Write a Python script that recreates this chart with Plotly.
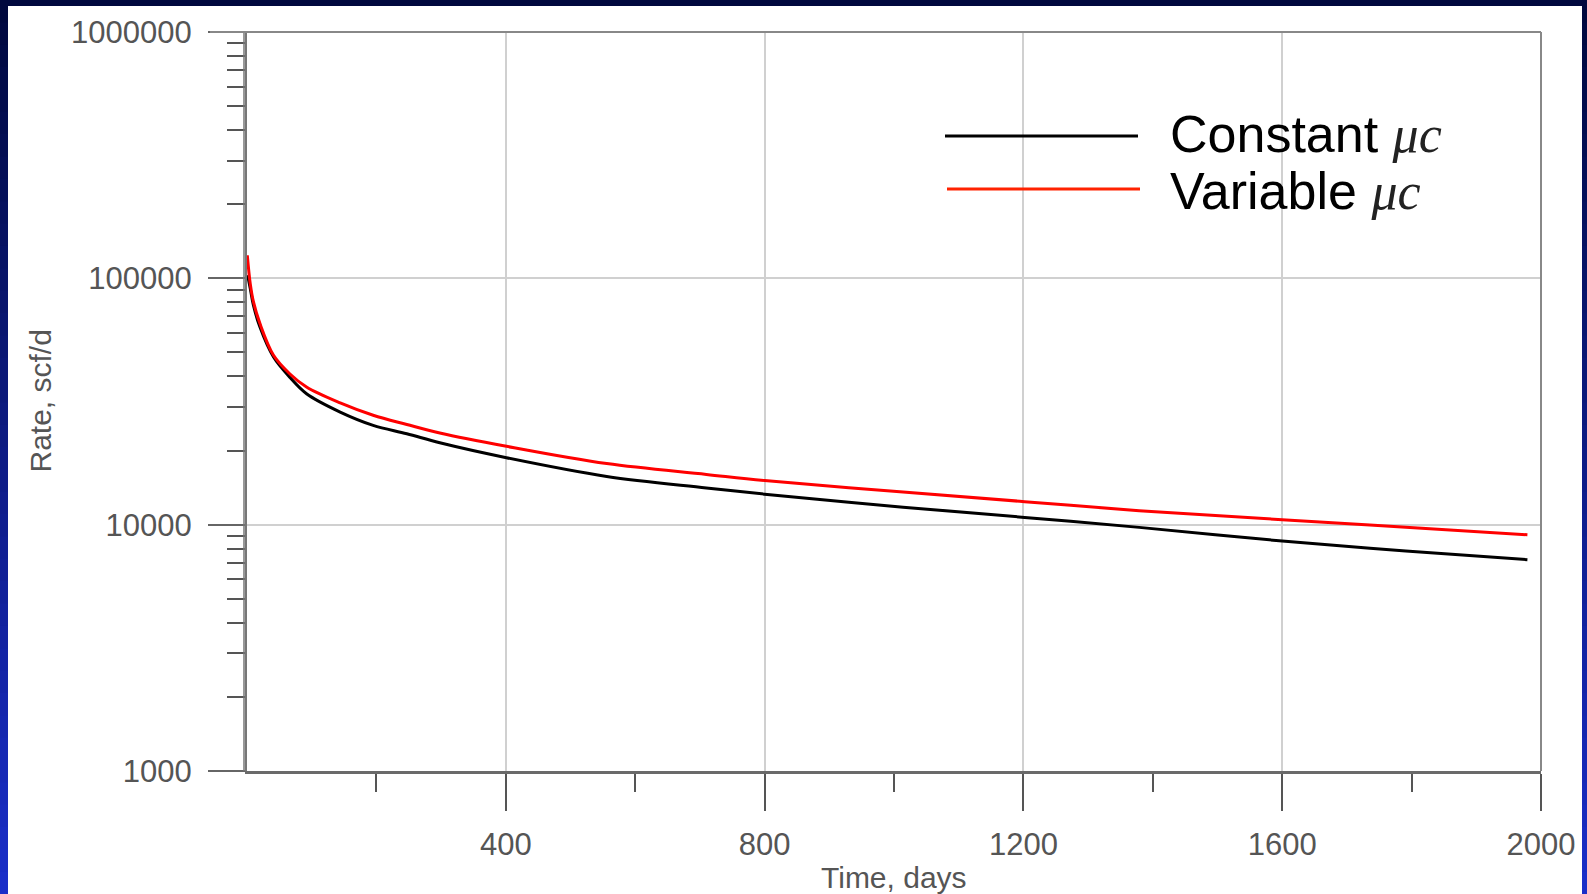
import plotly.graph_objects as go

# Production rate decline, constant vs. variable viscosity-compressibility product
t_constant = [1, 5, 10, 20, 41, 66, 92, 144, 195, 247, 298, 401, 556, 710, 800,
              1014, 1202, 1379, 1600, 1791, 1979]
q_constant = [103000, 91000, 77700, 63400, 47900, 39700, 34000, 28650, 25300, 23400,
              21500, 18700, 15700, 14100, 13300, 11780, 10700, 9750, 8580, 7820, 7210]

t_variable = [0.5, 5, 10, 20, 41, 66, 92, 144, 195, 247, 298, 401, 556, 710, 800,
              1014, 1202, 1379, 1600, 1791, 1979]
q_variable = [124000, 95200, 80200, 65500, 48700, 41000, 36200, 31200, 27800, 25500,
              23550, 20800, 17700, 16000, 15100, 13560, 12400, 11400, 10480, 9770, 9100]

x_major = [400, 800, 1200, 1600, 2000]
x_minor = [200, 600, 1000, 1400, 1800]
y_major = [1000, 10000, 100000, 1000000]
y_major_text = ["1000", "10000", "100000", "1000000"]
y_minor = [m * d for d in (1000, 10000, 100000) for m in range(2, 10)]

W, H = 1587, 894
L, R, T, B = 247, 1541, 32, 771   # plot-area pixel box


def px(x):
    return (x - L) / (R - L)


def py(y):
    return (B - y) / (B - T)


fig = go.Figure()
fig.add_trace(go.Scatter(x=t_constant, y=q_constant, mode="lines", name="Constant μc",
                         line=dict(color="#000000", width=3, shape="spline", smoothing=1.0),
                         showlegend=False))
fig.add_trace(go.Scatter(x=t_variable, y=q_variable, mode="lines", name="Variable μc",
                         line=dict(color="#ff0000", width=3, shape="spline", smoothing=1.0),
                         showlegend=False))

shapes = []
# slide background: vertical navy-to-blue gradient behind a white panel
top_c, bot_c = (0, 8, 62), (26, 46, 200)
n = 40
for i in range(n):
    f = i / (n - 1)
    c = tuple(round(top_c[k] + (bot_c[k] - top_c[k]) * f) for k in range(3))
    shapes.append(dict(type="rect", xref="paper", yref="paper", layer="below",
                       x0=px(-5), x1=px(W + 5), y0=py(H * i / n), y1=py(H * (i + 1) / n + 1),
                       line=dict(width=0), fillcolor="rgb(%d,%d,%d)" % c))
shapes.append(dict(type="rect", xref="paper", yref="paper", layer="below",
                   x0=px(8), x1=px(1582), y0=py(6), y1=py(H + 5),
                   line=dict(width=0), fillcolor="#ffffff"))
# second thin line along the left axis
shapes.append(dict(type="line", xref="paper", yref="paper",
                   x0=px(244), x1=px(244), y0=0, y1=1,
                   line=dict(color="#777777", width=1.5)))
# legend samples
shapes.append(dict(type="line", xref="paper", yref="paper",
                   x0=px(945), x1=px(1138), y0=py(136), y1=py(136),
                   line=dict(color="#000000", width=3)))
shapes.append(dict(type="line", xref="paper", yref="paper",
                   x0=px(947), x1=px(1140), y0=py(189), y1=py(189),
                   line=dict(color="#ff2200", width=3)))

mu = ("<span style=\"font-family:'Liberation Serif', serif; "
      "color:#222222\"><i>μc</i></span>")
annotations = [
    dict(text="Constant " + mu, xref="paper", yref="paper", x=px(1168), y=py(134),
         xanchor="left", yanchor="middle", showarrow=False,
         font=dict(family="Liberation Sans, Arial", size=52, color="#000000")),
    dict(text="Variable " + mu, xref="paper", yref="paper", x=px(1168), y=py(191),
         xanchor="left", yanchor="middle", showarrow=False,
         font=dict(family="Liberation Sans, Arial", size=52, color="#000000")),
    dict(text="Time, days", xref="paper", yref="paper", x=0.5, y=py(877),
         xanchor="center", yanchor="middle", showarrow=False,
         font=dict(family="Liberation Sans, Arial", size=30, color="#555555")),
    dict(text="Rate, scf/d", xref="paper", yref="paper", x=px(40), y=0.5, textangle=-90,
         xanchor="center", yanchor="middle", showarrow=False,
         font=dict(family="Liberation Sans, Arial", size=30, color="#555555")),
]

axis_font = dict(family="Liberation Sans, Arial", size=31, color="#555555")

fig.update_layout(
    width=W, height=H,
    margin=dict(l=L, r=W - R, t=T, b=H - B, pad=0),
    paper_bgcolor="#000840", plot_bgcolor="rgba(0,0,0,0)",
    shapes=shapes, annotations=annotations, showlegend=False,
    xaxis=dict(range=[0, 2000], tickvals=x_major, ticktext=[str(v) for v in x_major],
               ticks="outside", ticklen=37, tickwidth=2, tickcolor="#555555",
               showline=True, linecolor="#6a6a6a", linewidth=3, mirror=False,
               showgrid=True, gridcolor="#d0d0d0", gridwidth=2, zeroline=False,
               tickfont=axis_font, ticklabelstandoff=7,
               minor=dict(tickvals=x_minor, ticks="outside", ticklen=18, tickwidth=2,
                          tickcolor="#555555", showgrid=False)),
    yaxis=dict(type="log", range=[3, 6], tickvals=y_major, ticktext=y_major_text,
               ticks="outside", ticklen=37, tickwidth=2, tickcolor="#666666",
               showline=True, linecolor="#777777", linewidth=2, mirror=False,
               showgrid=True, gridcolor="#d0d0d0", gridwidth=2, zeroline=False,
               tickfont=axis_font, ticklabelstandoff=10,
               minor=dict(tickvals=y_minor, ticks="outside", ticklen=18, tickwidth=2,
                          tickcolor="#555555", showgrid=False)),
)

# frame on the top and right edges
fig.add_shape(type="line", xref="paper", yref="paper", x0=px(210), x1=1, y0=1, y1=1,
              line=dict(color="#888888", width=2))
fig.add_shape(type="line", xref="paper", yref="paper", x0=1, x1=1, y0=0, y1=1,
              line=dict(color="#888888", width=2))

fig.write_html("out.html")
